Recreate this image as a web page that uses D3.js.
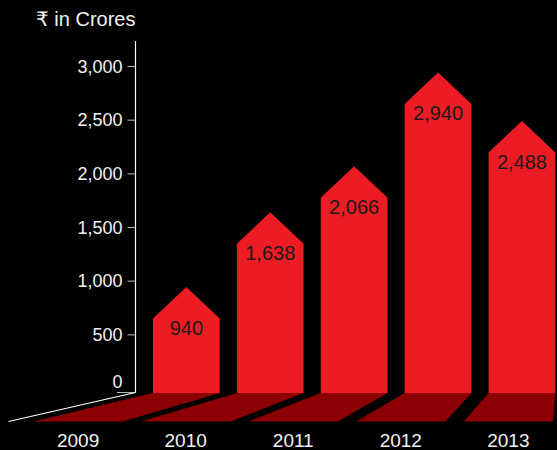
<!DOCTYPE html>
<html>
<head>
<meta charset="utf-8">
<script src="https://cdn.jsdelivr.net/npm/d3@7/dist/d3.min.js"></script>
<style>
  html, body { margin: 0; padding: 0; background: #000; }
  svg { display: block; font-family: "Liberation Sans", Arial, "DejaVu Sans", sans-serif; }
</style>
</head>
<body>
<svg id="chart" width="557" height="450"></svg>
<script>
// Revenue by year (₹ in Crores)
const years = ["2009", "2010", "2011", "2012", "2013"];
const revenue = [940, 1638, 2066, 2940, 2488];
const yTicks = [0, 500, 1000, 1500, 2000, 2500, 3000];
const unitLabel = "₹ in Crores";

const W = 557, H = 450;
const svg = d3.select("#chart");
svg.append("rect").attr("width", W).attr("height", H).attr("fill", "#000");

const axisX = 135.5;
const floorTop = 393, floorBottom = 421.5;
const tipHeight = 31.5;

// back edge of the floor (where the bars stand) and the nearer, wider front edge
const x = d3.scaleBand().domain(years).range([153, 555.3]).paddingInner(0.205).paddingOuter(0);
const xNear = d3.scaleBand().domain(years).range([33.5, 553]).paddingInner(0.17).paddingOuter(0);
const y = d3.scaleLinear().domain([0, 3000]).range([388, 66]);

const data = years.map((yr, i) => ({ year: yr, value: revenue[i] }));
const fmt = d3.format(",");

// floor tiles in perspective
svg.append("g").selectAll("path").data(data).join("path")
  .attr("fill", "#8c0004")
  .attr("d", d => {
    const x0 = x(d.year), x1 = x0 + x.bandwidth();
    const n0 = xNear(d.year), n1 = n0 + xNear.bandwidth();
    return `M${x0},${floorTop}L${x1},${floorTop}L${n1},${floorBottom}L${n0},${floorBottom}Z`;
  });

// arrow-shaped bars
svg.append("g").selectAll("path").data(data).join("path")
  .attr("fill", "#ed1c24")
  .attr("d", d => {
    const x0 = x(d.year), x1 = x0 + x.bandwidth(), cx = x0 + x.bandwidth() / 2;
    const apex = y(d.value), shoulder = apex + tipHeight;
    return `M${x0},${floorTop}L${x0},${shoulder}L${cx},${apex}L${x1},${shoulder}L${x1},${floorTop}Z`;
  });

// value labels inside the bars
svg.append("g").selectAll("text").data(data).join("text")
  .attr("x", d => x(d.year) + x.bandwidth() / 2)
  .attr("y", d => y(d.value) + tipHeight + 16.5)
  .attr("text-anchor", "middle")
  .attr("font-size", 20)
  .attr("fill", "#1a1a1a")
  .text(d => fmt(d.value));

// year labels under the front edge of the floor
svg.append("g").selectAll("text").data(data).join("text")
  .attr("x", d => xNear(d.year) + xNear.bandwidth() / 2)
  .attr("y", 447)
  .attr("text-anchor", "middle")
  .attr("font-size", 19)
  .attr("fill", "#f2f2f2")
  .text(d => d.year);

// value axis
const yAxis = d3.axisLeft(y)
  .tickValues(yTicks)
  .tickSize(8)
  .tickPadding(5)
  .tickFormat(fmt);

const ga = svg.append("g").attr("transform", `translate(${axisX},0)`).call(yAxis);
ga.select(".domain").remove();
ga.selectAll(".tick line").attr("stroke", "#bbb").attr("stroke-width", 1)
  .filter(d => d === 0).remove();
ga.selectAll(".tick text")
  .attr("fill", "#f2f2f2")
  .attr("font-size", 18)
  .attr("font-family", "'Liberation Sans', Arial, sans-serif")
  .attr("dy", d => d === 0 ? "-0.05em" : "0.34em");

// axis spine, baseline stub and receding floor edge
svg.append("line")
  .attr("x1", axisX).attr("x2", axisX).attr("y1", 41).attr("y2", 392.5)
  .attr("stroke", "#fff").attr("stroke-width", 1.2);
svg.append("line")
  .attr("x1", 117).attr("x2", axisX).attr("y1", 392.5).attr("y2", 392.5)
  .attr("stroke", "#bbb").attr("stroke-width", 1);
svg.append("line")
  .attr("x1", axisX).attr("y1", 392.5).attr("x2", 8.5).attr("y2", floorBottom)
  .attr("stroke", "#fff").attr("stroke-width", 1.2);

// unit caption
svg.append("text")
  .attr("x", axisX).attr("y", 26)
  .attr("text-anchor", "end")
  .attr("font-size", 20)
  .attr("fill", "#f2f2f2")
  .text(unitLabel);
</script>
</body>
</html>
